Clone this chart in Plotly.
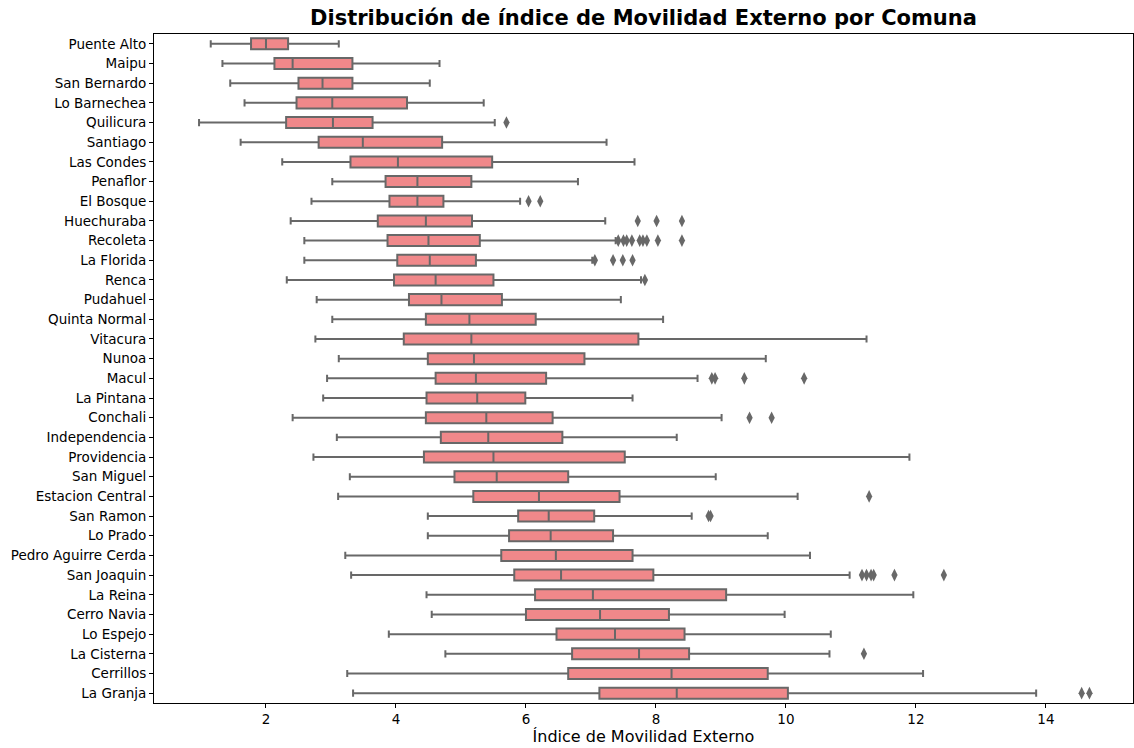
import plotly.graph_objects as go

comunas = ["Puente Alto", "Maipu", "San Bernardo", "Lo Barnechea", "Quilicura", "Santiago",
           "Las Condes", "Penaflor", "El Bosque", "Huechuraba", "Recoleta", "La Florida",
           "Renca", "Pudahuel", "Quinta Normal", "Vitacura", "Nunoa", "Macul", "La Pintana",
           "Conchali", "Independencia", "Providencia", "San Miguel", "Estacion Central",
           "San Ramon", "Lo Prado", "Pedro Aguirre Cerda", "San Joaquin", "La Reina",
           "Cerro Navia", "Lo Espejo", "La Cisterna", "Cerrillos", "La Granja"]

lower = [1.15, 1.33, 1.45, 1.67, 0.97, 1.61, 2.25, 3.02, 2.70, 2.38, 2.59, 2.59,
         2.32, 2.78, 3.02, 2.76, 3.12, 2.94, 2.88, 2.41, 3.09, 2.73, 3.29, 3.11,
         4.49, 4.49, 3.22, 3.31, 4.47, 4.55, 3.89, 4.76, 3.25, 3.34]
q1 = [1.77, 2.13, 2.50, 2.47, 2.31, 2.81, 3.30, 3.84, 3.90, 3.72, 3.87, 4.02,
      3.97, 4.20, 4.46, 4.12, 4.49, 4.61, 4.47, 4.46, 4.69, 4.43, 4.90, 5.19,
      5.88, 5.74, 5.62, 5.82, 6.14, 6.00, 6.47, 6.71, 6.65, 7.13]
median = [2.00, 2.41, 2.87, 3.02, 3.03, 3.49, 4.03, 4.33, 4.33, 4.46, 4.50, 4.52,
          4.61, 4.70, 5.13, 5.16, 5.20, 5.23, 5.25, 5.39, 5.42, 5.50, 5.55, 6.20,
          6.35, 6.38, 6.46, 6.54, 7.03, 7.14, 7.37, 7.74, 8.24, 8.32]
q3 = [2.34, 3.33, 3.33, 4.17, 3.64, 4.71, 5.48, 5.16, 4.73, 5.17, 5.29, 5.23,
      5.50, 5.63, 6.15, 7.73, 6.90, 6.31, 5.99, 6.41, 6.56, 7.52, 6.65, 7.44,
      7.05, 7.34, 7.64, 7.96, 9.08, 8.20, 8.44, 8.51, 9.72, 10.03]
upper = [3.12, 4.67, 4.52, 5.35, 5.52, 7.24, 7.67, 6.80, 5.91, 7.22, 7.38, 7.02,
         7.77, 7.46, 8.11, 11.24, 9.69, 8.64, 7.64, 9.01, 8.32, 11.90, 8.92, 10.18,
         8.55, 9.72, 10.37, 10.98, 11.96, 9.98, 10.69, 10.67, 12.11, 13.85]

outlier_comuna = ["Quilicura", "El Bosque", "El Bosque",
                  "Huechuraba", "Huechuraba", "Huechuraba",
                  "Recoleta", "Recoleta", "Recoleta", "Recoleta", "Recoleta", "Recoleta",
                  "Recoleta", "Recoleta", "Recoleta",
                  "La Florida", "La Florida", "La Florida", "La Florida",
                  "Renca", "Macul", "Macul", "Macul", "Macul",
                  "Conchali", "Conchali", "Estacion Central", "San Ramon", "San Ramon",
                  "San Joaquin", "San Joaquin", "San Joaquin", "San Joaquin", "San Joaquin",
                  "San Joaquin", "La Cisterna", "La Granja", "La Granja"]
outlier_value = [5.70, 6.04, 6.22,
                 7.72, 8.01, 8.40,
                 7.42, 7.50, 7.55, 7.63, 7.75, 7.80, 7.86, 8.03, 8.40,
                 7.06, 7.34, 7.49, 7.64,
                 7.83, 8.86, 8.91, 9.36, 10.28,
                 9.44, 9.78, 11.28, 8.81, 8.84,
                 11.17, 11.24, 11.31, 11.35, 11.67, 12.43,
                 11.20, 14.55, 14.67]

box_fill = "#F0888A"
line_gray = "#686868"

fig = go.Figure()
fig.add_trace(go.Box(
    y=comunas, q1=q1, median=median, q3=q3,
    lowerfence=lower, upperfence=upper,
    orientation="h", boxpoints=False,
    fillcolor=box_fill, line=dict(color=line_gray, width=2),
    whiskerwidth=0.65, showlegend=False, hoverinfo="x+y",
))
fig.add_trace(go.Scatter(
    x=outlier_value, y=outlier_comuna, mode="markers",
    marker=dict(symbol="diamond-tall", size=9, color=line_gray,
                line=dict(width=0)),
    showlegend=False,
))

axis_font = dict(family="DejaVu Sans", size=13.5, color="black")
fig.update_layout(
    width=1134, height=748,
    margin=dict(l=154, r=1, t=34, b=45),
    plot_bgcolor="white", paper_bgcolor="white",
    boxgap=0.2,
    title=dict(text="<b>Distribución de índice de Movilidad Externo por Comuna</b>",
               x=(154 + 1133) / 2 / 1134, xanchor="center", y=1 - 18 / 748, yanchor="middle",
               font=dict(family="DejaVu Sans", size=21, color="black")),
    xaxis=dict(range=[0.277, 15.34], tickvals=[2, 4, 6, 8, 10, 12, 14],
               ticks="outside", ticklen=4, tickwidth=1, tickcolor="black",
               showline=True, linecolor="black", linewidth=1, mirror=True,
               showgrid=False, zeroline=False, tickfont=axis_font,
               title=dict(text="Índice de Movilidad Externo",
                          font=dict(family="DejaVu Sans", size=16, color="black"),
                          standoff=4)),
    yaxis=dict(type="category", categoryorder="array", categoryarray=comunas,
               range=[33.5, -0.5], ticks="outside", ticklen=4, tickwidth=1,
               tickcolor="black", showline=True, linecolor="black", linewidth=1,
               mirror=True, showgrid=False, zeroline=False, tickfont=axis_font),
)

fig.write_html("out.html", config={"displayModeBar": False},
               post_script="document.body.style.margin='0';document.body.style.overflow='hidden';")
